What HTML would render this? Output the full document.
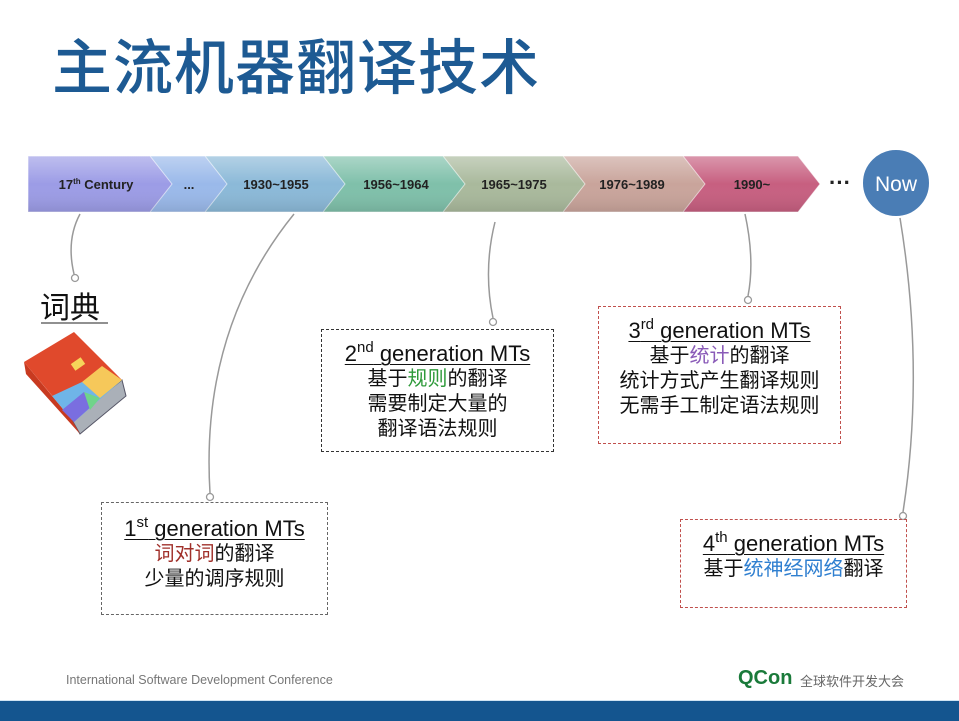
<!DOCTYPE html>
<html><head><meta charset="utf-8"><style>
body{margin:0;width:959px;height:720px;position:relative;background:#fff;overflow:hidden;font-family:"Liberation Sans","Noto Sans CJK SC",sans-serif}
.t{position:absolute;text-align:center;color:#111;font-size:20px;line-height:25px;white-space:nowrap}
.h{font-size:22px;line-height:26px;text-decoration:underline;text-decoration-thickness:1px;text-underline-offset:3px}
sup{font-size:15px;vertical-align:9px;line-height:0}
.box{position:absolute;box-sizing:border-box;border:1px dashed #555}
.red{border-color:#c0504d}
</style></head><body>
<div style="position:absolute;left:52px;top:26px;font-size:60px;line-height:76px;color:#1d5a93;font-family:'Noto Sans CJK SC',sans-serif;font-weight:500;letter-spacing:1px">主流机器翻译技术</div>
<svg width="959" height="720" style="position:absolute;left:0;top:0">
<defs><linearGradient id="g" x1="0" y1="0" x2="0" y2="1"><stop offset="0" stop-color="#fff" stop-opacity=".35"/><stop offset=".5" stop-color="#fff" stop-opacity="0"/><stop offset="1" stop-color="#000" stop-opacity=".1"/></linearGradient></defs>
<g stroke="#fff" stroke-opacity=".6" stroke-width="1">
<path d="M680 156 H798 L820 184 L798 212 H680 L702 184Z" fill="#c75f80"/>
<path d="M560 156 H683 L705 184 L683 212 H560 L582 184Z" fill="#c9a49b"/>
<path d="M440 156 H563 L585 184 L563 212 H440 L462 184Z" fill="#a9b99c"/>
<path d="M320 156 H443 L465 184 L443 212 H320 L342 184Z" fill="#7fc0aa"/>
<path d="M200 156 H323 L345 184 L323 212 H200 L222 184Z" fill="#8bb9d8"/>
<path d="M148 156 H205 L227 184 L205 212 H148 L170 184Z" fill="#9ab9ea"/>
<path d="M28 156 H150 L172 184 L150 212 H28Z" fill="#9c9ce6"/>
</g>
<path d="M28 156 H798 L820 184 L798 212 H28Z" fill="url(#g)"/>
<g font-family="Liberation Sans,sans-serif" font-weight="bold" font-size="13" fill="#222" text-anchor="middle">
<text x="96" y="189">17<tspan font-size="8" dy="-5">th</tspan><tspan dy="5"> Century</tspan></text>
<text x="189" y="189">...</text>
<text x="276" y="189">1930~1955</text>
<text x="396" y="189">1956~1964</text>
<text x="514" y="189">1965~1975</text>
<text x="632" y="189">1976~1989</text>
<text x="752" y="189">1990~</text>
</g>
<text x="840" y="190" font-size="22" font-weight="bold" fill="#222" font-family="Liberation Sans" text-anchor="middle">···</text>
<circle cx="896" cy="183" r="34" fill="#4a7db5" stroke="#fff" stroke-width="2"/>
<text x="896" y="191" font-size="21" fill="#fff" font-family="Liberation Sans" text-anchor="middle">Now</text>
<g fill="none" stroke="#999" stroke-width="1.5">
<path d="M80 214 Q66 240 74 274"/>
<path d="M294 214 Q200 330 210 493"/>
<path d="M495 222 Q483 270 493 318"/>
<path d="M745 214 Q755 260 748 296"/>
<path d="M900 218 Q925 370 903 512"/>
</g>
<g fill="#fff" stroke="#999" stroke-width="1.3">
<circle cx="75" cy="278" r="3.5"/><circle cx="210" cy="497" r="3.5"/><circle cx="493" cy="322" r="3.5"/><circle cx="748" cy="300" r="3.5"/><circle cx="903" cy="516" r="3.5"/>
</g>
<g transform="translate(22,332)">
<path d="M2 30 L52 0 L100 48 L52 90 Z" fill="#e0492c"/>
<path d="M50 88 L100 48 L104 64 L58 102 Z" fill="#aab0b8" stroke="#556" stroke-width="1"/>
<path d="M2 30 L50 88 L58 102 L4 42Z" fill="#c83a20"/>
<path d="M30 64 L60 50 L100 48 L52 90 Z" fill="#6fb5e8"/>
<path d="M60 50 L80 34 L100 48 L78 66Z" fill="#f6c85a"/>
<path d="M40 78 L62 60 L72 72 L52 90Z" fill="#7a6ee0"/>
<path d="M62 60 L78 66 L68 78Z" fill="#6fd48a"/>
<rect x="50" y="28" width="12" height="8" fill="#f6d55a" transform="rotate(-35 56 32)"/>
</g>
<line x1="41" y1="323" x2="108" y2="323" stroke="#222" stroke-width="1"/>
</svg>
<div class="t" style="left:40px;top:288px;font-size:30px;line-height:34px;font-family:'Noto Sans CJK SC',sans-serif">词典</div>

<div class="box" style="left:101px;top:502px;width:227px;height:113px;border-color:#666"></div>
<div class="t" style="left:101px;width:227px;top:516px"><div class="h">1<sup>st</sup> generation MTs</div><div><span style="color:#a0302a">词对词</span>的翻译</div><div>少量的调序规则</div></div>

<div class="box" style="left:321px;top:329px;width:233px;height:123px;border-color:#333"></div>
<div class="t" style="left:321px;width:233px;top:341px"><div class="h">2<sup>nd</sup> generation MTs</div><div>基于<span style="color:#2e9a3a">规则</span>的翻译</div><div>需要制定大量的</div><div>翻译语法规则</div></div>

<div class="box red" style="left:598px;top:306px;width:243px;height:138px"></div>
<div class="t" style="left:598px;width:243px;top:318px"><div class="h">3<sup>rd</sup> generation MTs</div><div>基于<span style="color:#8a5bb8">统计</span>的翻译</div><div>统计方式产生翻译规则</div><div>无需手工制定语法规则</div></div>

<div class="box red" style="left:680px;top:519px;width:227px;height:89px"></div>
<div class="t" style="left:680px;width:227px;top:531px"><div class="h">4<sup>th</sup> generation MTs</div><div>基于<span style="color:#2f7fd0">统神经网络</span>翻译</div></div>

<div style="position:absolute;left:66px;top:673px;font-size:12.5px;color:#777">International Software Development Conference</div>
<div style="position:absolute;left:738px;top:667px;font-size:20px;font-weight:bold;color:#1a7a3a">QCon</div>
<div style="position:absolute;left:800px;top:671px;font-size:13px;color:#666;font-family:'Noto Sans CJK SC',sans-serif">全球软件开发大会</div>
<div style="position:absolute;left:0;top:700px;width:959px;height:20px;background:#14558f;border-top:1px solid #cfe3f3"></div>
</body></html>
